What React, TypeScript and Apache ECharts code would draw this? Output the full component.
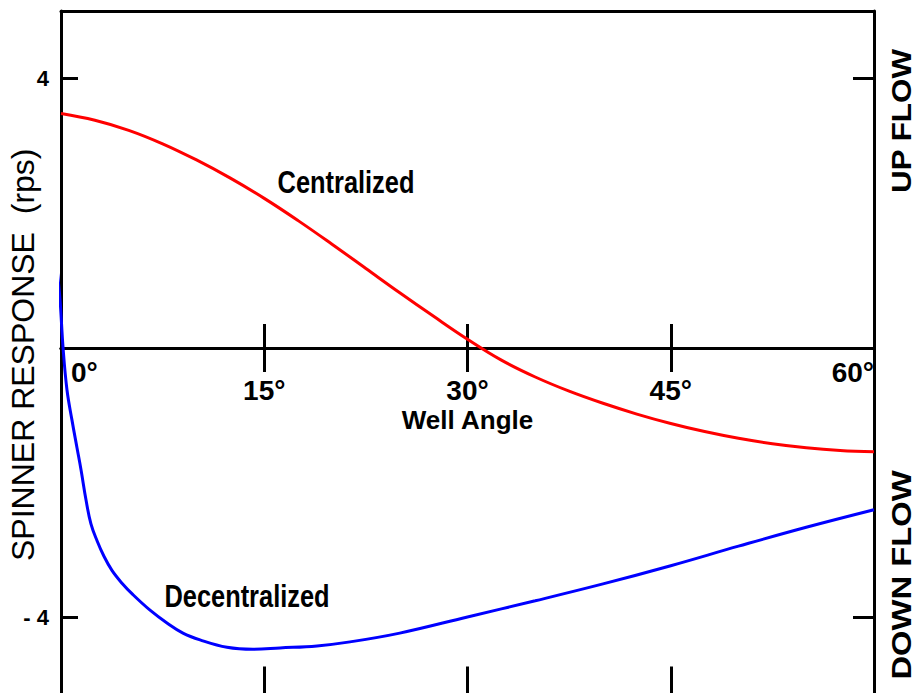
import React, { useEffect, useRef } from "react";
import * as echarts from "echarts";

// Well angle ticks (degrees)
const angleTicks = [0, 15, 30, 45, 60];
// Spinner response ticks (rps)
const responseTicks = [4, -4];
const responseMin = -5.2;
const responseMax = 5;

// Centralized spinner response (red)
const centralizedAngles = [0, 2.5, 5, 7.5, 10, 12.5, 15, 17.5, 20, 22.5, 25, 27.5, 30, 32.5, 35, 37.5, 40, 42.5, 45, 47.5, 50, 52.5, 55, 57.5, 60];
const centralizedValues = [3.48, 3.38, 3.23, 3.03, 2.79, 2.52, 2.22, 1.89, 1.54, 1.18, 0.82, 0.47, 0.13, -0.18, -0.43, -0.64, -0.82, -0.98, -1.12, -1.24, -1.34, -1.42, -1.48, -1.52, -1.54];

// Decentralized spinner response (blue)
const decentralizedAngles = [-0.3, -0.07, 0.15, 0.44, 0.81, 1.18, 1.48, 1.85, 2.21, 2.66, 3.17, 3.76, 4.5, 5.31, 6.57, 7.82, 9.0, 10.26, 12.25, 14.17, 16.16, 18.89, 21.33, 25, 30, 35, 40, 45, 50, 55, 60];
const decentralizedValues = [1.19, 0.71, 0.01, -0.62, -1.07, -1.48, -1.81, -2.26, -2.61, -2.86, -3.09, -3.3, -3.49, -3.66, -3.89, -4.08, -4.23, -4.33, -4.44, -4.47, -4.45, -4.42, -4.36, -4.23, -3.99, -3.75, -3.5, -3.23, -2.94, -2.66, -2.4];

const SANS = '"Liberation Sans", Arial, sans-serif';

export default function App() {
  const ref = useRef<HTMLDivElement>(null);

  useEffect(() => {
    if (!ref.current) return;
    const chart = echarts.init(ref.current, null, { renderer: "svg" });
    const black = "#000";
    const line = { color: black, width: 3 };
    const baseX = {
      type: "value",
      min: 0,
      max: 60,
      interval: 15,
      splitLine: { show: false },
    };
    const labelFont = { fontFamily: SANS, fontWeight: "bold", fontSize: 28, color: black };
    const annot = (text: string, x: number, y: number) => ({
      type: "text",
      x,
      y,
      scaleX: 0.82,
      style: {
        text,
        fill: black,
        fontFamily: SANS,
        fontWeight: "bold",
        fontSize: 31,
        align: "center",
        verticalAlign: "middle",
        textAlign: "center",
        textVerticalAlign: "middle",
      },
    });
    const sideText = (text: string, x: number, y: number, stretch: number) => ({
      type: "text",
      x,
      y,
      rotation: Math.PI / 2,
      scaleX: stretch,
      style: {
        text,
        fill: black,
        fontFamily: SANS,
        fontWeight: "bold",
        fontSize: 28,
        lineHeight: 24,
        align: "center",
        verticalAlign: "middle",
        textAlign: "center",
        textVerticalAlign: "middle",
      },
    });

    chart.setOption({
      animation: false,
      backgroundColor: "#fff",
      grid: { left: 61, right: 43, top: 11, bottom: 21.5, containLabel: false, outerBoundsMode: "none" },
      xAxis: [
        {
          ...baseX,
          position: "bottom",
          axisLine: { onZero: true, onZeroAxisIndex: 0, lineStyle: line },
          axisTick: { inside: true, length: 24, lineStyle: line },
          axisLabel: {
            margin: 10,
            alignMinLabel: "left",
            alignMaxLabel: "right",
            ...labelFont,
            formatter: (v: number) =>
              v === angleTicks[0]
                ? `{a|${v}°}`
                : v === angleTicks[angleTicks.length - 1]
                ? `{b|${v}°}`
                : `{m|${v}°}`,
            rich: {
              a: { ...labelFont, padding: [0, 0, 0, 10] },
              b: { ...labelFont },
              m: { ...labelFont, padding: [18, 0, 0, 0] },
            },
          },
          name: "Well Angle",
          nameLocation: "middle",
          nameGap: 59,
          nameMoveOverlap: false,
          nameTextStyle: { ...labelFont, fontSize: 26 },
        },
        {
          ...baseX,
          position: "top",
          axisLine: { onZero: true, onZeroAxisIndex: 0, lineStyle: line },
          axisTick: { inside: true, length: 24, lineStyle: line },
          axisLabel: { show: false },
        },
        {
          ...baseX,
          position: "bottom",
          axisLine: { onZero: false, lineStyle: line },
          axisTick: { inside: true, length: 32, lineStyle: line },
          axisLabel: { show: false },
        },
        {
          ...baseX,
          position: "top",
          axisLine: { onZero: false, lineStyle: line },
          axisTick: { show: false },
          axisLabel: { show: false },
        },
      ],
      yAxis: [
        {
          type: "value",
          min: responseMin,
          max: responseMax,
          position: "left",
          splitLine: { show: false },
          axisLine: { onZero: false, lineStyle: line },
          axisTick: { inside: true, length: 17, lineStyle: line, customValues: responseTicks },
          axisLabel: {
            customValues: responseTicks,
            margin: 12,
            fontFamily: SANS,
            fontWeight: "bold",
            fontSize: 22,
            color: black,
            formatter: (v: number) => (v < 0 ? `- ${Math.abs(v)}` : `${v}`),
          },
          name: "SPINNER RESPONSE  (rps)",
          nameLocation: "middle",
          nameRotate: 90,
          nameGap: 22,
          nameMoveOverlap: false,
          nameTextStyle: { fontFamily: SANS, fontSize: 32, color: black },
        },
        {
          type: "value",
          min: responseMin,
          max: responseMax,
          position: "right",
          splitLine: { show: false },
          axisLine: { onZero: false, lineStyle: line },
          axisTick: { inside: true, length: 21, lineStyle: line, customValues: responseTicks },
          axisLabel: { show: false },
        },
      ],
      graphic: [
        annot("Centralized", 346, 182),
        annot("Decentralized", 247, 596),
        sideText("UP FLOW", 901, 121, 1.12),
        sideText("DOWN FLOW", 901, 575, 1.17),
      ],
      series: [
        {
          name: "Centralized",
          type: "line",
          xAxisIndex: 0,
          yAxisIndex: 0,
          smooth: 0.4,
          symbol: "none",
          clip: false,
          lineStyle: { color: "#ff0000", width: 3 },
          data: centralizedAngles.map((a, i) => [a, centralizedValues[i]]),
        },
        {
          name: "Decentralized",
          type: "line",
          xAxisIndex: 0,
          yAxisIndex: 0,
          smooth: 0.4,
          symbol: "none",
          clip: false,
          lineStyle: { color: "#0000ff", width: 3 },
          data: decentralizedAngles.map((a, i) => [a, decentralizedValues[i]]),
        },
      ],
    });

    // Labels of an on-zero axis are laid out from the grid's bottom edge;
    // move them (and the axis name) up to the zero line using the axis scale.
    const zeroY = chart.convertToPixel({ yAxisIndex: 0 }, 0) as number;
    const bottomY = chart.convertToPixel({ yAxisIndex: 0 }, responseMin) as number;
    const shift = bottomY - zeroY;
    chart.setOption({
      xAxis: [{ axisLabel: { margin: 10 - shift }, nameGap: 59 - shift }],
    });

    return () => chart.dispose();
  }, []);

  return (
    <div
      style={{
        position: "absolute",
        left: 0,
        top: 0,
        width: 917,
        height: 693,
        overflow: "hidden",
        background: "#fff",
      }}
    >
      <div ref={ref} style={{ width: 917, height: 720 }} />
    </div>
  );
}
